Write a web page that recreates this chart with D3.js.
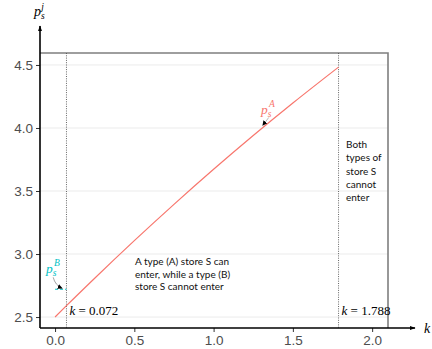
<!DOCTYPE html>
<html>
<head>
<meta charset="utf-8">
<script src="https://cdn.jsdelivr.net/npm/d3@7"></script>
<style>
  html, body { margin: 0; padding: 0; background: #fff; }
  svg { display: block; }
</style>
</head>
<body>
<svg id="chart" width="432" height="349"></svg>
<script>
// Price of a type (A) store S as the cost parameter k grows
const kValues  = [0, 0.072, 0.25, 0.5, 0.75, 1.0, 1.25, 1.5, 1.788];
const pAValues = [2.500, 2.590, 2.808, 3.106, 3.394, 3.672, 3.940, 4.198, 4.483];
// Price of a type (B) store S, only defined below the first threshold
const pBk      = [0, 0.072];
const pBValues = [2.72, 2.72];
// Entry thresholds
const thresholds = [0.072, 1.788];
const thresholdLabels = ["k = 0.072", "k = 1.788"];
// Axis ticks
const xTicks = [0.0, 0.5, 1.0, 1.5, 2.0];
const yTicks = [2.5, 3.0, 3.5, 4.0, 4.5];
// Region notes
const middleNote = ["A type (A) store S can", "enter, while a type (B)", "store S cannot enter"];
const rightNote  = ["Both", "types of", "store S", "cannot", "enter"];

const svg = d3.select("#chart");
const panel = { left: 40, right: 388, top: 53, bottom: 328 };

const x = d3.scaleLinear().domain([-0.095, 2.1]).range([panel.left, panel.right]);
const y = d3.scaleLinear().domain([2.413, 4.595]).range([panel.bottom, panel.top]);

const red = "#F8766D", teal = "#00BFC4";

// arrowheads
const defs = svg.append("defs");
defs.append("marker").attr("id", "axisArrow")
  .attr("viewBox", "0 0 10 10").attr("refX", 9).attr("refY", 5)
  .attr("markerWidth", 6).attr("markerHeight", 6).attr("orient", "auto")
  .attr("markerUnits", "userSpaceOnUse")
  .append("path").attr("d", "M0,1.5 L10,5 L0,8.5 Z").attr("fill", "#000");
defs.append("marker").attr("id", "noteArrow")
  .attr("viewBox", "0 0 10 10").attr("refX", 9).attr("refY", 5)
  .attr("markerWidth", 5).attr("markerHeight", 5).attr("orient", "auto")
  .attr("markerUnits", "userSpaceOnUse")
  .append("path").attr("d", "M0,0 L10,5 L0,10 Z").attr("fill", "#000");

// horizontal gridlines
svg.append("g").selectAll("line").data(yTicks).join("line")
  .attr("x1", panel.left).attr("x2", panel.right)
  .attr("y1", d => y(d)).attr("y2", d => y(d))
  .attr("stroke", "#EBEBEB").attr("stroke-width", 1);

// panel border (top and right)
svg.append("path")
  .attr("d", `M${panel.left},${panel.top}H${panel.right}V${panel.bottom}`)
  .attr("fill", "none").attr("stroke", "#7F7F7F").attr("stroke-width", 1.6);

// threshold lines
svg.append("g").selectAll("line").data(thresholds).join("line")
  .attr("x1", d => x(d)).attr("x2", d => x(d))
  .attr("y1", panel.top).attr("y2", panel.bottom)
  .attr("stroke", "#555").attr("stroke-width", 0.9)
  .attr("stroke-dasharray", "1,1.3");

// price curve of type (A)
const line = d3.line().x(d => x(d[0])).y(d => y(d[1])).curve(d3.curveMonotoneX);
svg.append("path")
  .datum(kValues.map((k, i) => [k, pAValues[i]]))
  .attr("d", line)
  .attr("fill", "none").attr("stroke", red).attr("stroke-width", 1.2);

// price of type (B)
svg.append("path")
  .datum(pBk.map((k, i) => [k, pBValues[i]]))
  .attr("d", d3.line().x(d => x(d[0])).y(d => y(d[1])))
  .attr("fill", "none").attr("stroke", teal).attr("stroke-width", 1.1)
  .attr("stroke-dasharray", "3,2");

// axes
const xAxis = svg.append("g").attr("transform", `translate(0,${panel.bottom})`)
  .call(d3.axisBottom(x).tickValues(xTicks).tickFormat(d3.format(".1f")).tickSize(4).tickSizeOuter(0));
const yAxis = svg.append("g").attr("transform", `translate(${panel.left},0)`)
  .call(d3.axisLeft(y).tickValues(yTicks).tickFormat(d3.format(".1f")).tickSize(4).tickSizeOuter(0));
[xAxis, yAxis].forEach(g => {
  g.select(".domain").remove();
  g.selectAll(".tick line").attr("stroke", "#333").attr("stroke-width", 1);
  g.selectAll(".tick text")
    .attr("fill", "#4D4D4D")
    .attr("font-family", "Liberation Sans, Arial, sans-serif")
    .attr("font-size", 13.5);
});

// axis lines with arrows
svg.append("line")
  .attr("x1", panel.left).attr("x2", 415).attr("y1", panel.bottom).attr("y2", panel.bottom)
  .attr("stroke", "#000").attr("stroke-width", 1.6).attr("marker-end", "url(#axisArrow)");
svg.append("line")
  .attr("x1", panel.left).attr("x2", panel.left).attr("y1", panel.bottom).attr("y2", 26)
  .attr("stroke", "#000").attr("stroke-width", 1.6).attr("marker-end", "url(#axisArrow)");

// axis titles
const serif = "Liberation Serif, Times New Roman, serif";
svg.append("text").attr("x", 424).attr("y", 333)
  .attr("font-family", serif).attr("font-style", "italic").attr("font-size", 14)
  .text("k");
const yTitle = svg.append("text").attr("x", 34).attr("y", 16)
  .attr("font-family", serif).attr("font-style", "italic").attr("font-size", 14);
yTitle.append("tspan").text("p");
yTitle.append("tspan").attr("font-size", 9.5).attr("dy", 3).text("s");
yTitle.append("tspan").attr("font-size", 9.5).attr("dx", -3.5).attr("dy", -9.5).text("j");

// threshold labels
svg.append("g").selectAll("text").data(thresholds).join("text")
  .attr("x", d => x(d) + 3).attr("y", 314.5)
  .attr("font-family", serif).attr("font-size", 13)
  .each(function(d, i) {
    const parts = thresholdLabels[i].split(" ");
    const t = d3.select(this);
    t.append("tspan").attr("font-style", "italic").text(parts[0]);
    t.append("tspan").text(" " + parts.slice(1).join(" "));
  });

// price labels
function priceLabel(px, py, sup, color) {
  const t = svg.append("text").attr("x", px).attr("y", py)
    .attr("font-family", serif).attr("font-style", "italic").attr("font-size", 13.5)
    .attr("fill", color);
  t.append("tspan").text("p");
  t.append("tspan").attr("font-size", 9.5).attr("dy", 3).text("s");
  t.append("tspan").attr("font-size", 9.5).attr("dx", -2.5).attr("dy", -10).text(sup);
}
priceLabel(261, 114, "A", red);
priceLabel(46, 273, "B", teal);

// arrows from labels to curves
const aTip = [x(1.31), y(4.02)];
svg.append("line")
  .attr("x1", aTip[0] + 6).attr("y1", aTip[1] - 8)
  .attr("x2", aTip[0]).attr("y2", aTip[1])
  .attr("stroke", "#888").attr("stroke-width", 0.6).attr("marker-end", "url(#noteArrow)");
const bTip = [x(0.045), y(pBValues[0]) - 1];
svg.append("path")
  .attr("d", `M${bTip[0] - 9},${bTip[1] - 11} Q${bTip[0] - 7},${bTip[1] - 3} ${bTip[0]},${bTip[1]}`)
  .attr("fill", "none").attr("stroke", "#666").attr("stroke-width", 0.6)
  .attr("marker-end", "url(#noteArrow)");

// region notes
const sans = "Lato, Carlito, Noto Sans, sans-serif";
svg.append("text").attr("x", 135).attr("y", 265)
  .attr("font-family", sans).attr("font-size", 10).attr("fill", "#111")
  .selectAll("tspan").data(middleNote).join("tspan")
  .attr("x", 135).attr("dy", (d, i) => i === 0 ? 0 : 12.6).text(d => d);
svg.append("text").attr("x", 346).attr("y", 148)
  .attr("font-family", sans).attr("font-size", 10).attr("fill", "#111")
  .selectAll("tspan").data(rightNote).join("tspan")
  .attr("x", 346).attr("dy", (d, i) => i === 0 ? 0 : 13.3).text(d => d);
</script>
</body>
</html>
